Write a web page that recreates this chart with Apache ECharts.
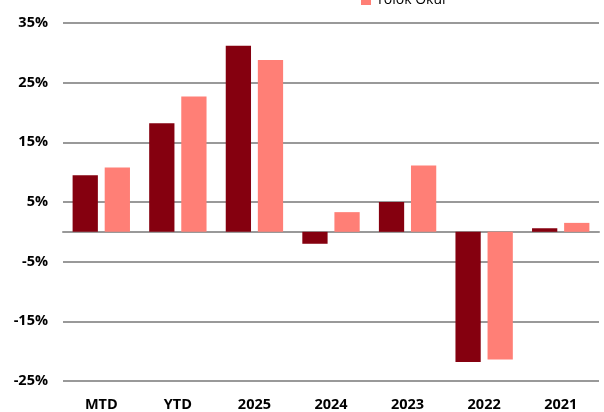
<!DOCTYPE html>
<html>
<head>
<meta charset="utf-8">
<script src="https://cdn.jsdelivr.net/npm/echarts@6/dist/echarts.min.js"></script>
<style>
  html, body { margin: 0; padding: 0; background: #fff; }
  #bar-chart { width: 604px; height: 412px; }
</style>
</head>
<body>
<div id="bar-chart"></div>
<script>
var categories = ['MTD', 'YTD', '2025', '2024', '2023', '2022', '2021'];
var fundName = 'Fon';
var indexName = 'Yolok Okul';
var fundValues = [9.5, 18.2, 31.2, -2.0, 5.0, -21.8, 0.6];
var indexValues = [10.8, 22.7, 28.8, 3.3, 11.1, -21.4, 1.5];

var barchart = echarts.init(document.getElementById('bar-chart'));
var option = {
    color: ['#85000f', '#ff7f76'],
    textStyle: { fontFamily: 'Open Sans' },
    animation: false,

    legend: {
        orient: 'vertical',
        left: 356,
        top: -32,
        itemWidth: 10,
        itemHeight: 10,
        itemGap: 6,
        icon: 'rect',
        textStyle: { fontSize: 14, color: '#000' },
        data: [fundName, indexName]
    },

    grid: {
        left: 63,
        right: 5,
        top: 23,
        bottom: 29,
        containLabel: false
    },

    xAxis: [{
        type: 'category',
        data: categories,
        axisTick: { show: false },
        axisLine: { onZero: true, lineStyle: { color: '#999', width: 2 } },
        axisLabel: {
            interval: 0,
            margin: 16,
            fontSize: 14.5,
            fontWeight: 'bold',
            color: '#000'
        }
    }],
    yAxis: [{
        type: 'value',
        min: -25,
        max: 35,
        interval: 10,
        axisLine: { show: false },
        axisTick: { show: false },
        splitLine: { lineStyle: { color: '#999', width: 2 } },
        axisLabel: {
            margin: 15,
            fontSize: 14.5,
            fontWeight: 'bold',
            color: '#000',
            formatter: '{value}%'
        }
    }],

    series: [{
        name: fundName,
        type: 'bar',
        barWidth: '33%',
        barGap: '27%',
        data: fundValues
    }, {
        name: indexName,
        type: 'bar',
        barWidth: '33%',
        data: indexValues
    }]
};

barchart.setOption(option);
window.onresize = function(){
    barchart.resize();
};
</script>
</body>
</html>
